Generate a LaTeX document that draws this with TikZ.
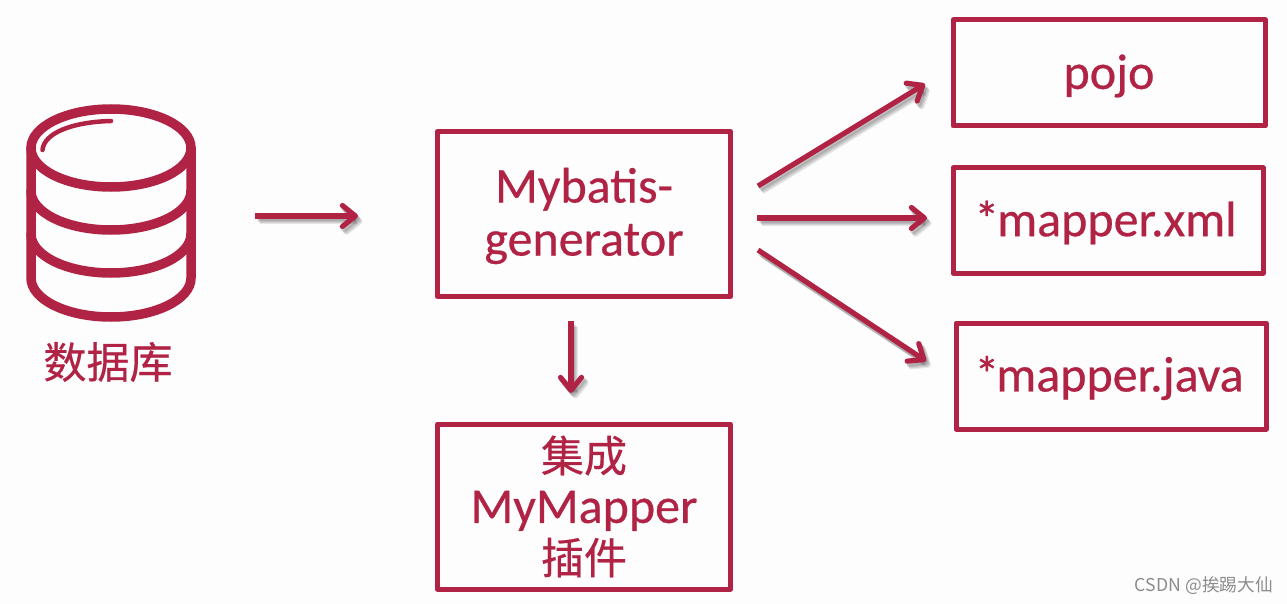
\documentclass[tikz,border=0pt]{standalone}
\usepackage{fontspec}
\setmainfont[FakeBold=0.5]{Carlito}
\newfontfamily\cjk[FakeBold=0.5]{Noto Sans CJK SC}
\newfontfamily\wm{Noto Sans CJK SC}
\usetikzlibrary{arrows.meta}
\definecolor{crim}{HTML}{B02345}
\definecolor{bgc}{HTML}{FEFDFE}
\tikzset{
  x=1pt,y=-1pt,
  box/.style={draw=crim,line width=5pt,line join=round,inner sep=0pt,outer sep=0pt,text=crim,font=\fontsize{50}{53}\selectfont,align=center,anchor=north west},
  icon/.style={draw=crim,line width=9.5pt,line cap=round},
  link/.style={draw=crim,line width=5.2pt,-{Straight Barb[length=13pt,width=21pt,round,line width=5.2pt]}},
  linkshade/.style={draw=black,line width=5.5pt,opacity=.09,-{Straight Barb[length=13pt,width=21pt,round,line width=5.5pt]}},
  cjklabel/.style={text=crim,inner sep=0pt,font=\fontsize{43}{50}\selectfont\cjk},
}
\newcommand{\shaded}[2]{%
  \foreach \dx/\dy in {1.5/2.5,2.5/3.5,3.5/4.5,4.5/5.5}{\draw[linkshade] ([shift={(\dx,\dy)}]#1) -- ([shift={(\dx,\dy)}]#2);}
  \draw[link] (#1) -- (#2);}
\newcommand{\lowered}[2]{\raisebox{-#1}[\height][\depth]{#2}}
\begin{document}
\begin{tikzpicture}
\useasboundingbox (0,0) rectangle (1287,604);
\fill[bgc] (0,0) rectangle (1287,604);
% database icon
\draw[icon] (111,148) ellipse [x radius=80,y radius=39];
\draw[icon] (31,148) -- (31,278) arc[start angle=180,end angle=0,x radius=80,y radius=39] -- (191,148);
\draw[icon] (31,191) arc[start angle=180,end angle=0,x radius=80,y radius=39];
\draw[icon] (31,234) arc[start angle=180,end angle=0,x radius=80,y radius=39];
\draw[crim,line width=4.5pt,line cap=round] (42.5,150) .. controls (44,133) and (72,122) .. (111,121);
\node[cjklabel] (db) at (108,362) {数据库};
% boxes
\node[box,minimum width=293pt,minimum height=165pt] (gen) at (437.5,131.5) {\lowered{2pt}{Mybatis-}\\\lowered{2pt}{generator}};
\node[box,minimum width=293pt,minimum height=165pt,font=\fontsize{50}{51}\selectfont] (plug) at (437.5,424)
  {{\fontsize{43}{51}\selectfont\cjk 集成}\\MyMapper\\{\fontsize{43}{51}\selectfont\cjk 插件}};
\node[box,minimum width=312pt,minimum height=106pt] (pojo) at (953,20) {\lowered{3pt}{pojo}};
\node[box,minimum width=310pt,minimum height=105pt] (xml) at (953,168) {\lowered{2pt}{*\kern-2pt mapper.xml\kern5pt}};
\node[box,minimum width=310pt,minimum height=106pt] (java) at (956,323) {\lowered{2pt}{*\kern-3pt mapper.java\kern4pt}};
% connector ends
\coordinate (a1) at (255,216); \coordinate (a2) at (358,216);
\coordinate (b1) at (571,321); \coordinate (b2) at (571,393);
\coordinate (c1) at (758,186); \coordinate (c2) at (925,84);
\coordinate (d1) at (757,218); \coordinate (d2) at (927,218);
\coordinate (e1) at (758,250); \coordinate (e2) at (926,361);
\shaded{a1}{a2}
\shaded{c1}{c2}
\shaded{d1}{d2}
\shaded{e1}{e2}
\shaded{b1}{b2}
% watermark
\node[text=black!45,inner sep=0pt,anchor=east,font=\fontsize{17.7}{20}\selectfont\wm] (mark) at (1273,586) {CSDN @挨踢大仙};
\end{tikzpicture}
\end{document}
